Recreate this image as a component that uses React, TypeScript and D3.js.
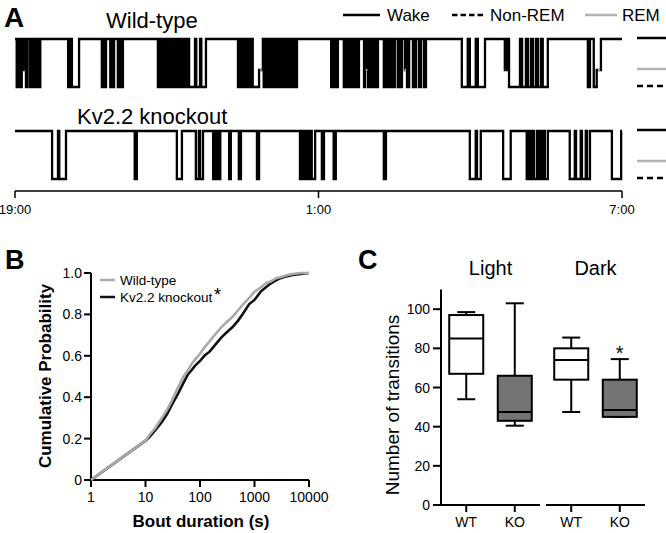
import React from 'react';
import * as d3 from 'd3';

const FONT = '"Liberation Sans", Arial, Helvetica, sans-serif';

// ---------- Panel A: hypnograms (minutes after 19:00) ----------
const timeTickValues = [0, 360, 720];
const timeTickLabels = ['19:00', '1:00', '7:00'];
const stateLegend = ['Wake', 'Non-REM', 'REM'];
const stateLevels = ['W', 'R', 'N'];

const wtSleepBouts: [number, number, string][] = [
  [2, 4, 'N'], [6, 8, 'N'], [9.5, 12, 'R'], [13, 15, 'N'], [18, 19, 'N'], [21, 22.5, 'N'], [24, 25, 'N'], [26, 27.3, 'N'], [28.5, 30, 'N'],
  [63, 64, 'N'], [65, 66.5, 'N'], [67.5, 76, 'N'],
  [103, 105, 'N'], [107, 108, 'N'], [113, 114.5, 'N'], [116, 117.5, 'N'], [122, 124, 'N'], [126, 128, 'N'],
  [169.5, 171, 'N'], [172, 173, 'N'], [174.5, 175.5, 'N'], [177, 178, 'N'], [179, 181, 'N'], [182.5, 184, 'N'], [185, 186, 'N'], [188.5, 190, 'N'], [192, 193.5, 'N'], [195.5, 197, 'N'], [199, 200.5, 'N'], [203, 205, 'N'], [206.5, 213.5, 'N'], [215, 219.5, 'N'], [221, 226.5, 'N'],
  [264.5, 266, 'N'], [268, 269, 'N'], [271.5, 273, 'N'], [275, 276.5, 'N'], [278.5, 280, 'N'], [282, 289.5, 'N'], [289.5, 294, 'R'], [295, 296.5, 'N'],
  [299, 300, 'N'], [302.5, 303.5, 'N'], [305, 306, 'N'], [308.5, 309.5, 'N'], [310.5, 312, 'N'], [314, 315.5, 'N'], [316.5, 318, 'N'], [320, 321.5, 'N'], [323.5, 325, 'N'], [326, 327.5, 'N'], [329.5, 331, 'N'], [332, 334.5, 'N'],
  [375, 376, 'N'], [378, 380.5, 'N'], [382, 383, 'N'], [390, 392.5, 'N'], [394, 395, 'N'], [396, 397.5, 'N'], [398.5, 399.5, 'N'], [401, 402, 'N'], [403, 404.5, 'N'], [405.5, 408, 'N'],
  [414, 415, 'N'], [416.5, 417.5, 'R'], [418.5, 420, 'N'], [421, 422, 'N'], [423.5, 424.5, 'N'], [426, 427, 'N'], [428, 430.5, 'N'],
  [437.5, 439, 'N'], [440, 442.5, 'N'], [443.5, 445, 'N'], [446, 447, 'N'], [448.5, 450.5, 'N'], [454, 455.5, 'N'], [456.5, 459, 'N'], [462.5, 463.5, 'R'], [465, 467.5, 'N'], [472, 473, 'N'], [474.5, 475.5, 'N'], [479, 481.5, 'N'], [485, 487.5, 'N'],
  [530, 537, 'N'], [539.5, 546.5, 'N'], [549, 557.5, 'N'],
  [581, 583.5, 'R'], [586, 599, 'N'], [601.5, 606, 'N'], [608.5, 612, 'N'], [614.5, 618, 'N'], [620.5, 624, 'N'], [626, 632, 'N'],
  [679.5, 682, 'N'], [686.5, 690, 'N'], [690, 695, 'R'],
];

const koSleepBouts: [number, number, string][] = [
  [44, 51, 'N'], [52.5, 60.5, 'N'], [142, 144.5, 'N'], [192, 198, 'N'], [214.5, 218, 'N'], [219.5, 223, 'N'],
  [235, 236.5, 'N'], [238.5, 240, 'N'], [242, 243.5, 'N'], [254, 256, 'N'], [265.5, 268, 'N'], [287, 289.5, 'N'],
  [338, 340.5, 'N'], [341.5, 344, 'N'], [345, 347.5, 'N'], [348.5, 351, 'N'], [352, 356, 'N'], [364, 366.5, 'N'], [378, 380.5, 'N'],
  [437.5, 440, 'N'], [539.5, 546.5, 'N'], [548, 552.5, 'N'], [579, 588, 'N'],
  [607, 609.5, 'N'], [612, 614, 'N'], [615.5, 619, 'N'], [620.5, 622.5, 'N'], [624, 626, 'N'], [628.5, 632, 'N'],
  [658, 664, 'N'], [665.5, 671, 'N'], [672.5, 677, 'N'], [678.5, 682, 'N'], [708, 719, 'N'],
];

// ---------- Panel B: cumulative distribution of bout durations ----------
const cdfDurations = [1, 10, 12, 15, 20, 25, 30, 40, 50, 60, 70, 80, 100, 120, 150, 200, 250, 300, 400, 500, 600, 800, 1000, 1300, 1600, 2000, 2500, 3000, 4000, 5000, 7000, 10000];
const cdfWildType = [0, 0.19, 0.22, 0.25, 0.30, 0.34, 0.38, 0.45, 0.50, 0.53, 0.56, 0.58, 0.61, 0.64, 0.67, 0.71, 0.74, 0.76, 0.79, 0.82, 0.845, 0.88, 0.91, 0.93, 0.95, 0.96, 0.975, 0.98, 0.99, 0.995, 1.0, 1.0];
const cdfKnockout = [0, 0.19, 0.21, 0.24, 0.28, 0.32, 0.36, 0.42, 0.47, 0.51, 0.53, 0.55, 0.575, 0.60, 0.62, 0.66, 0.69, 0.71, 0.74, 0.77, 0.80, 0.85, 0.87, 0.91, 0.93, 0.95, 0.965, 0.975, 0.985, 0.99, 0.995, 1.0];
const cdfXTicks = [1, 10, 100, 1000, 10000];
const cdfYTicks = [0, 0.2, 0.4, 0.6, 0.8, 1.0];
const cdfSeriesNames = ['Wild-type', 'Kv2.2 knockout'];

// ---------- Panel C: number of transitions ----------
const boxPeriods = ['Light', 'Light', 'Dark', 'Dark'];
const boxGenotypes = ['WT', 'KO', 'WT', 'KO'];
const boxMin = [54, 40.5, 47.5, 45];
const boxQ1 = [67, 43, 64, 45];
const boxMedian = [85, 47.5, 74, 48.5];
const boxQ3 = [97, 66, 80, 64];
const boxMax = [98.5, 103, 85.5, 74.5];
const boxYTicks = [0, 20, 40, 60, 80, 100];

export default function App() {
  const W = 666;
  const H = 533;

  // ---- A ----
  const xTime = d3.scaleLinear().domain([0, 720]).range([15, 622]);
  const levelOffset = d3.scaleOrdinal<string, number>().domain(stateLevels).range([0, 31, 48]);
  const traces = [
    { label: 'Wild-type', bouts: wtSleepBouts, top: 39, lx: 106, ly: 28 },
    { label: 'Kv2.2 knockout', bouts: koSleepBouts, top: 131, lx: 77, ly: 124 },
  ];
  const buildSteps = (bouts: [number, number, string][]) => {
    const pts: [number, string][] = [[0, 'W']];
    for (const [s, e, st] of bouts) {
      const last = pts[pts.length - 1];
      if (pts.length > 1 && last[1] === 'W' && last[0] >= s) {
        last[1] = st;
      } else {
        pts.push([s, st]);
      }
      pts.push([e, 'W']);
    }
    pts.push([720, 'W']);
    return pts;
  };

  // ---- B ----
  const xB = d3.scaleLog().domain([1, 10000]).range([91, 309]);
  const yB = d3.scaleLinear().domain([0, 1]).range([480, 273]);
  const cdfLine = d3.line<number>().x((_, i) => xB(cdfDurations[i])).y((d) => yB(d));

  // ---- C ----
  const yC = d3.scaleLinear().domain([0, 110]).range([505, 289.6]);
  const periodBand = d3.scaleBand<string>().domain(['Light', 'Dark']).range([441, 645]).paddingInner(0.057);
  const genoPoint = d3.scalePoint<string>().domain(['WT', 'KO']).range([0, periodBand.bandwidth()]).padding(0.52);
  const boxX = (i: number) => (periodBand(boxPeriods[i]) as number) + (genoPoint(boxGenotypes[i]) as number);
  const boxW = 34;
  const capW = 18;

  return (
    <svg width={W} height={H} style={{ position: 'absolute', left: 0, top: 0, background: '#fff' }} fontFamily={FONT}>
      <rect width={W} height={H} fill="#fff" />
      {/* Panel A */}
      <text x={4} y={27} fontSize={28} fontWeight="bold">A</text>
      {/* top legend */}
      <g fontSize={17}>
        <line x1={343} x2={380} y1={15} y2={15} stroke="#000" strokeWidth={2.5} />
        <text x={387} y={21}>{stateLegend[0]}</text>
        <line x1={452} x2={484} y1={15} y2={15} stroke="#000" strokeWidth={2.5} strokeDasharray="5.5,3" />
        <text x={490} y={21}>{stateLegend[1]}</text>
        <line x1={585} x2={617} y1={15} y2={15} stroke="#b3b3b3" strokeWidth={2.5} />
        <text x={622} y={21}>{stateLegend[2]}</text>
      </g>
      {traces.map((t) => {
        const pts = buildSteps(t.bouts);
        const line = d3
          .line<[number, string]>()
          .x((d) => xTime(d[0]))
          .y((d) => t.top + levelOffset(d[1]))
          .curve(d3.curveStepAfter);
        const rem: [number, number][] = [];
        pts.forEach((p, i) => {
          if (p[1] === 'R' && i < pts.length - 1) rem.push([p[0], pts[i + 1][0]]);
        });
        return (
          <g key={t.label}>
            <text x={t.lx} y={t.ly} fontSize={22}>{t.label}</text>
            <path d={line(pts) || ''} fill="none" stroke="#000" strokeWidth={2.3} strokeLinejoin="miter" />
            {rem.map((r, i) => (
              <line key={i} x1={xTime(r[0]) + 1.2} x2={xTime(r[1]) - 1.2} y1={t.top + levelOffset('R')} y2={t.top + levelOffset('R')} stroke="#b3b3b3" strokeWidth={2.3} />
            ))}
            <line x1={637} x2={666} y1={t.top - 1 + levelOffset('W')} y2={t.top - 1 + levelOffset('W')} stroke="#000" strokeWidth={2.5} />
            <line x1={637} x2={666} y1={t.top - 1 + levelOffset('R')} y2={t.top - 1 + levelOffset('R')} stroke="#b3b3b3" strokeWidth={2.5} />
            <line x1={637} x2={666} y1={t.top - 1 + levelOffset('N')} y2={t.top - 1 + levelOffset('N')} stroke="#000" strokeWidth={2.5} strokeDasharray="6,4" />
          </g>
        );
      })}
      {/* time axis */}
      <line x1={xTime(0)} x2={xTime(720)} y1={191} y2={191} stroke="#000" strokeWidth={1.5} />
      {timeTickValues.map((v, i) => (
        <g key={v}>
          <line x1={xTime(v)} x2={xTime(v)} y1={191} y2={198} stroke="#000" strokeWidth={1.5} />
          <text x={xTime(v)} y={214} fontSize={13} textAnchor="middle">{timeTickLabels[i]}</text>
        </g>
      ))}

      {/* Panel B */}
      <text x={5} y={269} fontSize={27} fontWeight="bold">B</text>
      <line x1={xB(1)} x2={xB(1)} y1={yB(1)} y2={yB(0)} stroke="#000" strokeWidth={2} />
      <line x1={xB(1)} x2={xB(10000)} y1={yB(0)} y2={yB(0)} stroke="#000" strokeWidth={2} />
      {cdfYTicks.map((v) => (
        <g key={v}>
          <line x1={xB(1) - 7} x2={xB(1)} y1={yB(v)} y2={yB(v)} stroke="#000" strokeWidth={2} />
          <text x={xB(1) - 9} y={yB(v) + 5} fontSize={14} textAnchor="end">{v === 0 ? '0' : v.toFixed(1)}</text>
        </g>
      ))}
      {cdfXTicks.map((v) => (
        <g key={v}>
          <line x1={xB(v)} x2={xB(v)} y1={yB(0)} y2={yB(0) + 7} stroke="#000" strokeWidth={2} />
          <text x={xB(v)} y={502} fontSize={14} textAnchor="middle">{String(v)}</text>
        </g>
      ))}
      <path d={cdfLine(cdfKnockout) || ''} fill="none" stroke="#111" strokeWidth={2.6} />
      <path d={cdfLine(cdfWildType) || ''} fill="none" stroke="#aaa" strokeWidth={2.6} />
      <text x={201} y={527} fontSize={17} fontWeight="bold" textAnchor="middle">Bout duration (s)</text>
      <text transform="translate(51,376) rotate(-90)" fontSize={17} fontWeight="bold" textAnchor="middle">Cumulative Probability</text>
      <g fontSize={13.5}>
        <line x1={100} x2={115} y1={280} y2={280} stroke="#aaa" strokeWidth={2.5} />
        <text x={120} y={285}>{cdfSeriesNames[0]}</text>
        <line x1={100} x2={115} y1={297} y2={297} stroke="#111" strokeWidth={2.5} />
        <text x={120} y={302}>{cdfSeriesNames[1]}</text>
        <text x={214} y={301} fontSize={18}>*</text>
      </g>

      {/* Panel C */}
      <text x={358} y={269} fontSize={27} fontWeight="bold">C</text>
      <line x1={441} x2={441} y1={yC(110)} y2={yC(0)} stroke="#000" strokeWidth={2} />
      {['Light', 'Dark'].map((p) => (
        <g key={p}>
          <line x1={p === 'Light' ? 441 : (periodBand(p) as number)} x2={(periodBand(p) as number) + periodBand.bandwidth()} y1={yC(0)} y2={yC(0)} stroke="#000" strokeWidth={2} />
          <text x={(periodBand(p) as number) + periodBand.bandwidth() / 2} y={275} fontSize={20} textAnchor="middle">{p}</text>
        </g>
      ))}
      {boxYTicks.map((v) => (
        <g key={v}>
          <line x1={433} x2={441} y1={yC(v)} y2={yC(v)} stroke="#000" strokeWidth={2} />
          <text x={430} y={yC(v) + 5} fontSize={14} textAnchor="end">{v}</text>
        </g>
      ))}
      {boxGenotypes.map((g, i) => {
        const cx = boxX(i);
        const fill = g === 'KO' ? '#747474' : '#fff';
        return (
          <g key={i}>
            <line x1={cx} x2={cx} y1={yC(0)} y2={yC(0) + 7} stroke="#000" strokeWidth={2} />
            <text x={cx} y={527} fontSize={14} textAnchor="middle">{g}</text>
            <line x1={cx} x2={cx} y1={yC(boxMax[i])} y2={yC(boxQ3[i])} stroke="#000" strokeWidth={2} />
            <line x1={cx} x2={cx} y1={yC(boxQ1[i])} y2={yC(boxMin[i])} stroke="#000" strokeWidth={2} />
            <line x1={cx - capW / 2} x2={cx + capW / 2} y1={yC(boxMax[i])} y2={yC(boxMax[i])} stroke="#000" strokeWidth={2} />
            <line x1={cx - capW / 2} x2={cx + capW / 2} y1={yC(boxMin[i])} y2={yC(boxMin[i])} stroke="#000" strokeWidth={2} />
            <rect x={cx - boxW / 2} y={yC(boxQ3[i])} width={boxW} height={yC(boxQ1[i]) - yC(boxQ3[i])} fill={fill} stroke="#000" strokeWidth={2} />
            <line x1={cx - boxW / 2} x2={cx + boxW / 2} y1={yC(boxMedian[i])} y2={yC(boxMedian[i])} stroke="#000" strokeWidth={2} />
          </g>
        );
      })}
      <text x={boxX(3)} y={360} fontSize={20} textAnchor="middle">*</text>
      <text transform="translate(399,405) rotate(-90)" fontSize={19} textAnchor="middle">Number of transitions</text>
    </svg>
  );
}
